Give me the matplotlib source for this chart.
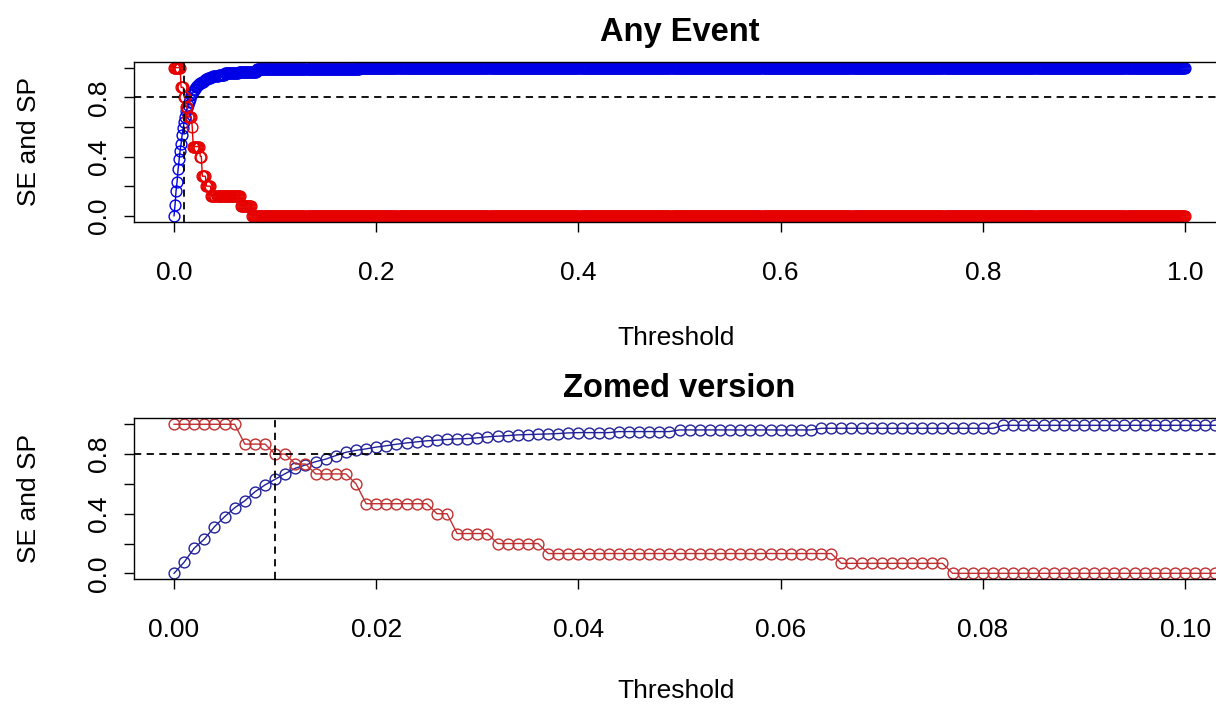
import numpy as np
import matplotlib.pyplot as plt
from matplotlib.ticker import FormatStrFormatter

plt.rcParams['font.family'] = ['Liberation Sans', 'DejaVu Sans']

# cut-offs (one every 0.001 from 0 to 1)
thresholds = np.arange(0, 1001) / 1000

# sensitivity: first 44 cut-offs read one by one, then flat runs
se_head = [0.000, 0.075, 0.169, 0.230, 0.313, 0.380, 0.440, 0.487, 0.547, 0.593,
           0.631, 0.669, 0.705, 0.727, 0.749, 0.766, 0.790, 0.812, 0.825, 0.835,
           0.847, 0.856, 0.866, 0.875, 0.882, 0.889, 0.893, 0.898, 0.902, 0.904,
           0.909, 0.916, 0.920, 0.924, 0.929, 0.931, 0.933, 0.935, 0.938, 0.942,
           0.944, 0.944, 0.944, 0.944]
se_levels = [0.951, 0.962, 0.973, 0.993, 1.0]
se_counts = [6, 14, 18, 102, 817]

# specificity: flat runs (value, number of cut-offs)
sp_levels = [1.0, 0.867, 0.8, 0.733, 0.667, 0.6, 0.467, 0.4, 0.267, 0.2, 0.133, 0.067, 0.0]
sp_counts = [7, 3, 2, 2, 4, 1, 7, 2, 4, 5, 29, 11, 924]

cutoff = 0.01
target = 0.8

se = np.concatenate([se_head, np.repeat(se_levels, se_counts)])
sp = np.repeat(sp_levels, sp_counts)

fig = plt.figure(figsize=(12.16, 7.04), dpi=100)
W, H = 1216, 704
ax1 = fig.add_axes([133.6 / W, 1 - 221.7 / H, 1092 / W, 160 / H])
ax2 = fig.add_axes([133.6 / W, 1 - 579.3 / H, 1092 / W, 161 / H])


def panel(ax, title, xlim, xticks, fmt, blue, red, label_y):
    ax.plot(thresholds, se, '-o', color=blue, mfc='none', ms=7.8, mew=1.0, lw=1.0)
    ax.plot(thresholds, sp, '-o', color=red, mfc='none', ms=7.8, mew=1.0, lw=1.0)
    ax.axhline(target, color='black', lw=1.3, ls=(0, (4, 3)))
    ax.axvline(cutoff, color='black', lw=1.3, ls=(0, (4, 3)))
    ax.set_xlim(xlim)
    ax.set_ylim(-0.04, 1.04)
    ax.set_xticks(xticks)
    ax.xaxis.set_major_formatter(FormatStrFormatter(fmt))
    ax.set_yticks([0, 0.2, 0.4, 0.6, 0.8, 1.0])
    ax.set_yticklabels(['0.0', '', '0.4', '', '0.8', ''])
    ax.tick_params(axis='x', length=7.2, width=1, labelsize=19, pad=21)
    ax.tick_params(axis='y', length=7.2, width=1, labelsize=19, pad=9, labelrotation=90)
    for t in ax.get_yticklabels():
        t.set_va('center')
    for s in ax.spines.values():
        s.set_linewidth(1.0)
    ax.set_title(title, fontsize=23.5, fontweight='bold', pad=15)
    ax.set_xlabel('Threshold', fontsize=19)
    ax.xaxis.set_label_coords(0.4967, label_y)
    ax.set_ylabel('SE and SP', fontsize=19)
    ax.yaxis.set_label_coords(-0.085, 0.5)


panel(ax1, 'Any Event', (-0.04, 1.04), [0, 0.2, 0.4, 0.6, 0.8, 1.0], '%.1f',
      '#0000e6', '#e60000', -0.652)
panel(ax2, 'Zomed version', (-0.004, 0.104), [0, 0.02, 0.04, 0.06, 0.08, 0.10], '%.2f',
      '#22229a', '#c03030', -0.622)

fig.savefig('out.png', dpi=100)
